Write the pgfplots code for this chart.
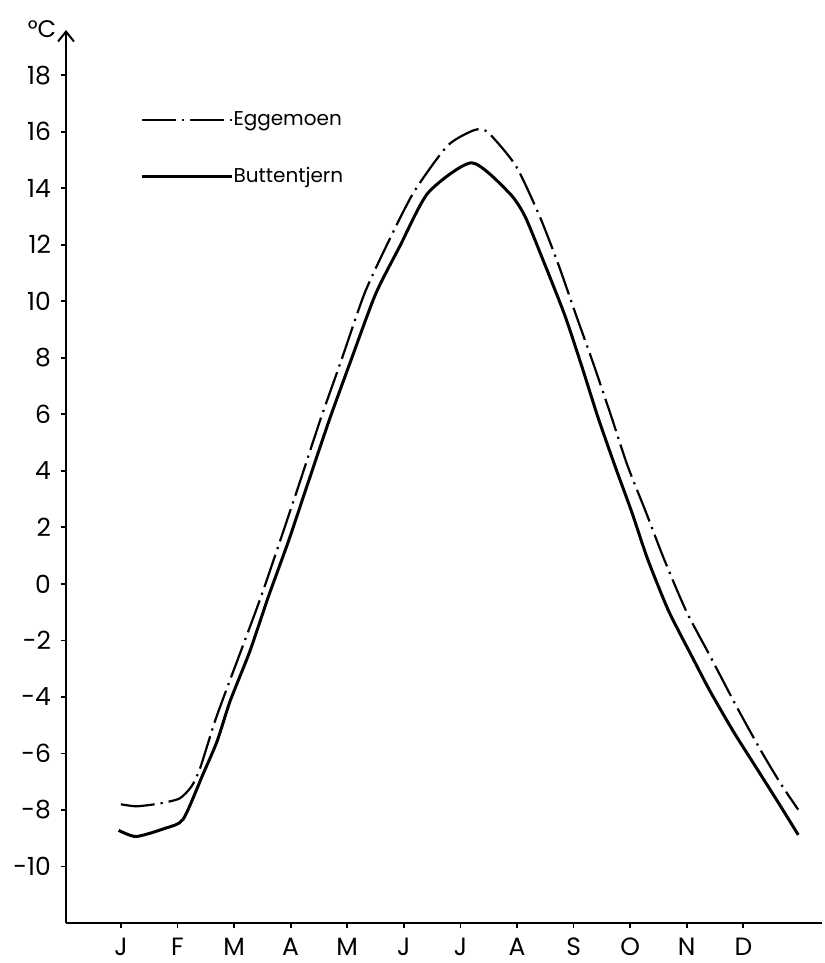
\documentclass[border=0pt]{standalone}
\usepackage{fontspec}
\setmainfont{Poppins}
\usepackage{pgfplots}
\pgfplotsset{compat=1.18}
\usetikzlibrary{arrows.meta}

\pgfplotstableread{
x y
0.00 -7.80
0.28 -7.87
0.69 -7.77
1.04 -7.59
1.25 -7.16
1.40 -6.52
1.69 -4.70
2.12 -2.38
2.47 -0.49
2.82 1.56
3.18 3.71
3.53 5.84
3.89 7.88
4.30 10.25
4.69 11.95
5.17 13.84
5.77 15.50
6.25 16.06
6.49 15.97
6.98 14.79
7.40 13.01
7.73 11.31
8.04 9.53
8.36 7.73
8.67 5.90
8.95 4.20
9.28 2.53
9.60 0.87
9.99 -0.96
10.43 -2.62
10.85 -4.23
11.29 -5.83
11.66 -7.07
11.97 -7.99
}\egg

\pgfplotstableread{
x y
-0.04 -8.72
0.27 -8.94
0.78 -8.65
1.10 -8.33
1.45 -6.74
1.70 -5.57
1.93 -4.15
2.28 -2.38
2.60 -0.49
2.97 1.56
3.33 3.71
3.69 5.84
4.06 7.88
4.50 10.25
4.93 11.95
5.43 13.84
6.20 14.90
6.86 13.84
7.14 13.01
7.49 11.31
7.84 9.53
8.14 7.73
8.43 5.90
8.73 4.18
9.03 2.53
9.31 0.87
9.68 -0.96
10.11 -2.64
10.41 -3.79
10.82 -5.21
11.23 -6.51
11.64 -7.81
11.97 -8.88
}\butt

\begin{document}
\begin{tikzpicture}
\useasboundingbox (-33pt,-20pt) rectangle (379pt,461.5pt);
\begin{axis}[
  at={(0,0)}, anchor=south west,
  scale only axis, width=378pt, height=446.5pt,
  xmin=-0.97, xmax=12.39, ymin=-12, ymax=19.6,
  axis lines=left,
  clip=false,
  x axis line style={-, line width=1pt},
  y axis line style={-{Straight Barb[length=5pt,width=8pt,line width=1pt]}, line width=1pt},
  xtick={0,...,11},
  xticklabels={J,F,M,A,M,J,J,A,S,O,N,D},
  ytick={-10,-8,...,18},
  yticklabels={-10,-8,-6,-4,-2,0,2,4,6,8,10,12,14,16,18},
  tick align=outside,
  major tick length=2.5pt,
  tick style={black, line width=0.9pt},
  tick label style={font=\fontsize{12.5}{14}\selectfont},
  yticklabel style={xshift=-1.5pt},
  xticklabel style={yshift=-1.5pt},
  legend style={at={(axis cs:0.34,16.72)}, anchor=north west, draw=none, fill=none,
    inner sep=0pt, row sep=19.5pt, font=\fontsize{10}{12}\selectfont,
    nodes={inner sep=0pt, anchor=west}},
  legend image code/.code={\draw[#1] (0pt,0pt) -- (39pt,0pt);\path (0pt,0pt) -- (45pt,0pt);},
  legend cell align=left,
]
\addplot[black, line width=1.1pt, smooth, tension=0.4,
  dash pattern=on 17pt off 3pt on 1.1pt off 3pt] table[x=x,y=y] {\egg};
\addlegendentry{Eggemoen}
\addplot[black, line width=1.5pt, smooth, tension=0.4] table[x=x,y=y] {\butt};
\addlegendentry{Buttentjern}
\node[font=\fontsize{12}{14}\selectfont] at (rel axis cs:0,1) [xshift=-12pt, yshift=0.5pt] {°C};
\end{axis}
\end{tikzpicture}
\end{document}
